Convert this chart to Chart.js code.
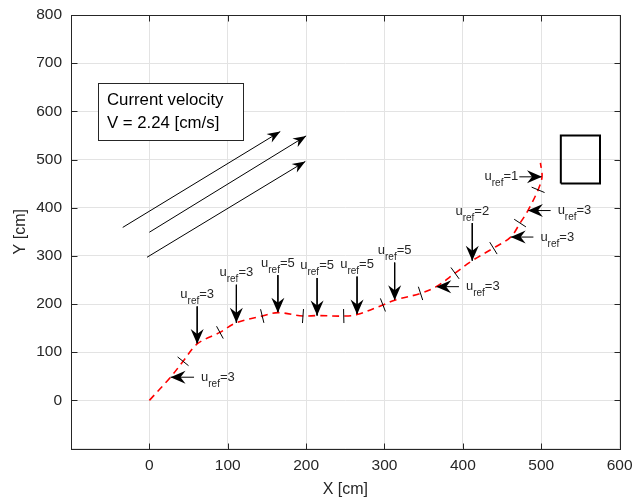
<!DOCTYPE html>
<html>
<head>
<meta charset="utf-8">
<script src="https://cdn.jsdelivr.net/npm/chart.js@4.4.1/dist/chart.umd.min.js"></script>
<style>
  html, body { margin: 0; background: #fff; }
  canvas { display: block; }
</style>
</head>
<body>
<canvas id="traj" width="635" height="503"></canvas>
<script>
// planned trajectory [cm]
const pathX = [0, 27, 43, 61, 90, 111, 144, 164, 196, 214, 248, 265, 298, 313, 346, 366, 390, 412, 439, 461, 473, 483, 496, 501, 499];
const pathY = [0, 48, 81, 117, 141, 161, 175, 182, 175, 176, 175, 178, 198, 208, 222, 236, 264, 290, 316, 339, 368, 394, 437, 464, 493];

// segment boundaries on the path
const segX = [43, 90, 144, 196, 248, 298, 346, 390, 439, 473, 496];
const segY = [81, 141, 175, 175, 175, 198, 222, 264, 316, 368, 437];

// reference speed markers (arrow tail -> tip) and their u_ref values
const refFromX = [57, 61, 111, 164, 214, 265, 313, 395, 412, 490, 512, 472];
const refFromY = [48, 195, 240, 260, 254, 257, 286, 236, 368, 339, 394, 464];
const refToX = [27, 61, 111, 164, 214, 265, 313, 366, 412, 461, 483, 501];
const refToY = [48, 117, 161, 182, 176, 178, 208, 236, 290, 339, 394, 464];
const uRef = [3, 3, 3, 5, 5, 5, 5, 3, 2, 3, 3, 1];

// current direction arrows
const curFromX = [-34, 0, -3];
const curFromY = [359, 349, 297];
const curToX = [167, 200, 199];
const curToY = [558, 549, 496];

// goal region
const goalX = [525, 575, 575, 525, 525];
const goalY = [450, 450, 550, 550, 450];

const noteLines = ["Current velocity", "V = 2.24 [cm/s]"];
const noteBoxX = [-65, 120];
const noteBoxY = [540, 658];

const FONT = '"Liberation Sans", Arial, Helvetica, sans-serif';
const INK = '#262626';

const pts = (xs, ys) => xs.map((x, i) => ({ x: x, y: ys[i] }));

const datasets = [];
datasets.push({
  data: pts(pathX, pathY),
  showLine: true,
  borderColor: '#ff0000',
  borderWidth: 1.6,
  borderDash: [7, 5],
  tension: 0.35,
  pointRadius: 0
});
datasets.push({
  data: pts(goalX, goalY),
  showLine: true,
  borderColor: '#000',
  borderWidth: 2,
  tension: 0,
  pointRadius: 0
});
refFromX.forEach((x, i) => {
  datasets.push({
    data: [{ x: x, y: refFromY[i] }, { x: refToX[i], y: refToY[i] }],
    showLine: true, borderColor: '#000', borderWidth: 1, pointRadius: 0
  });
});
curFromX.forEach((x, i) => {
  datasets.push({
    data: [{ x: x, y: curFromY[i] }, { x: curToX[i], y: curToY[i] }],
    showLine: true, borderColor: '#000', borderWidth: 1, pointRadius: 0
  });
});

function arrowHead(ctx, x1, y1, x2, y2, len, half, back) {
  const a = Math.atan2(y2 - y1, x2 - x1);
  const c = Math.cos(a), s = Math.sin(a);
  const P = (u, v) => [x2 + u * c - v * s, y2 + u * s + v * c];
  ctx.beginPath();
  ctx.moveTo(...P(0, 0));
  ctx.lineTo(...P(-len, half));
  ctx.lineTo(...P(-len + back, 0));
  ctx.lineTo(...P(-len, -half));
  ctx.closePath();
  ctx.fill();
}

// draws "u_ref=N" with a subscript
function refLabel(ctx, x, y, val, align) {
  const main = '13px ' + FONT, sub = '10px ' + FONT;
  ctx.font = main;
  const wu = ctx.measureText('u').width;
  const wv = ctx.measureText('=' + val).width;
  ctx.font = sub;
  const wr = ctx.measureText('ref').width;
  const w = wu + wr + wv;
  let x0 = x;
  if (align === 'center') x0 = x - w / 2;
  else if (align === 'right') x0 = x - w;
  ctx.textAlign = 'left';
  ctx.textBaseline = 'alphabetic';
  ctx.fillStyle = INK;
  ctx.font = main;
  ctx.fillText('u', x0, y);
  ctx.font = sub;
  ctx.fillText('ref', x0 + wu, y + 6);
  ctx.font = main;
  ctx.fillText('=' + val, x0 + wu + wr, y);
}

const overlay = {
  id: 'overlay',
  afterDatasetsDraw(chart) {
    const { ctx, scales: { x: sx, y: sy }, chartArea: a } = chart;
    const px = v => sx.getPixelForValue(v);
    const py = v => sy.getPixelForValue(v);
    ctx.save();

    // segment ticks across the path
    ctx.strokeStyle = '#000';
    ctx.lineWidth = 1;
    segX.forEach((sxv, i) => {
      let k = 0, best = Infinity;
      pathX.forEach((p, j) => {
        const d = Math.hypot(p - sxv, pathY[j] - segY[i]);
        if (d < best) { best = d; k = j; }
      });
      const p0 = Math.max(k - 1, 0), p1 = Math.min(k + 1, pathX.length - 1);
      const dx = px(pathX[p1]) - px(pathX[p0]);
      const dy = py(pathY[p1]) - py(pathY[p0]);
      const L = Math.hypot(dx, dy);
      const nx = -dy / L, ny = dx / L;
      const cx = px(sxv), cy = py(segY[i]);
      ctx.beginPath();
      ctx.moveTo(cx - nx * 7, cy - ny * 7);
      ctx.lineTo(cx + nx * 7, cy + ny * 7);
      ctx.stroke();
    });

    // reference speed arrowheads and labels
    refFromX.forEach((fx, i) => {
      const x1 = px(fx), y1 = py(refFromY[i]);
      const x2 = px(refToX[i]), y2 = py(refToY[i]);
      ctx.fillStyle = '#000';
      arrowHead(ctx, x1, y1, x2, y2, 15, 6.5, 5);
      if (refFromY[i] !== refToY[i]) {
        refLabel(ctx, x1, y1 - 8.5, uRef[i], 'center');
      } else if (fx > refToX[i]) {
        refLabel(ctx, x1 + 7, y1 + 3.5, uRef[i], 'left');
      } else {
        refLabel(ctx, x1 - 1, y1 + 3.5, uRef[i], 'right');
      }
    });

    // current arrowheads
    ctx.fillStyle = '#000';
    curFromX.forEach((fx, i) => {
      arrowHead(ctx, px(fx), py(curFromY[i]), px(curToX[i]), py(curToY[i]), 13, 5, 4);
    });

    // note box
    const bx0 = px(noteBoxX[0]), bx1 = px(noteBoxX[1]);
    const by0 = py(noteBoxY[1]), by1 = py(noteBoxY[0]);
    ctx.fillStyle = '#fff';
    ctx.fillRect(bx0, by0, bx1 - bx0, by1 - by0);
    ctx.strokeStyle = INK;
    ctx.lineWidth = 1;
    ctx.strokeRect(Math.round(bx0) + 0.5, Math.round(by0) + 0.5, Math.round(bx1 - bx0), Math.round(by1 - by0));
    ctx.fillStyle = '#000';
    ctx.font = '16.8px ' + FONT;
    ctx.textAlign = 'left';
    ctx.textBaseline = 'middle';
    noteLines.forEach((t, i) => ctx.fillText(t, bx0 + 8.5, by0 + 17 + i * 23.3));

    // axes box with inward ticks
    ctx.strokeStyle = INK;
    ctx.lineWidth = 1;
    const L = Math.round(a.left) + 0.5, R = Math.round(a.right) + 0.5;
    const T = Math.round(a.top) + 0.5, B = Math.round(a.bottom) + 0.5;
    ctx.strokeRect(L, T, R - L, B - T);
    ctx.beginPath();
    sx.ticks.forEach(t => {
      if (t.value <= sx.min || t.value >= sx.max) return;
      const x = Math.round(px(t.value)) + 0.5;
      ctx.moveTo(x, B); ctx.lineTo(x, B - 6);
      ctx.moveTo(x, T); ctx.lineTo(x, T + 6);
    });
    sy.ticks.forEach(t => {
      if (t.value <= sy.min || t.value >= sy.max) return;
      const y = Math.round(py(t.value)) + 0.5;
      ctx.moveTo(L, y); ctx.lineTo(L + 6, y);
      ctx.moveTo(R, y); ctx.lineTo(R - 6, y);
    });
    ctx.stroke();
    ctx.restore();
  }
};

new Chart(document.getElementById('traj'), {
  type: 'scatter',
  data: { datasets: datasets },
  options: {
    responsive: false,
    animation: false,
    layout: { padding: { top: 15, right: 15.4, left: 0, bottom: 0 } },
    plugins: { legend: { display: false }, tooltip: { enabled: false } },
    scales: {
      x: {
        type: 'linear', min: -100, max: 600,
        ticks: {
          stepSize: 100, autoSkip: false, maxRotation: 0, padding: 8,
          color: INK, font: { family: FONT, size: 15.5 },
          callback: v => (v < 0 ? '' : v)
        },
        grid: { color: '#e3e3e3', drawTicks: false },
        border: { display: false },
        title: { display: true, text: 'X [cm]', color: INK, font: { family: FONT, size: 16 }, padding: { top: 0, bottom: 4 } },
        afterFit: s => { s.height = 54.5; s.paddingLeft = 0; s.paddingRight = 0; }
      },
      y: {
        type: 'linear', min: -100, max: 800,
        ticks: {
          stepSize: 100, autoSkip: false, padding: 9,
          color: INK, font: { family: FONT, size: 15.5 },
          callback: v => (v < 0 ? '' : v)
        },
        grid: { color: '#e3e3e3', drawTicks: false },
        border: { display: false },
        title: { display: true, text: 'Y [cm]', color: INK, font: { family: FONT, size: 16 }, padding: { top: 10.5, bottom: 0 } },
        afterFit: s => { s.width = 71; s.paddingTop = 0; s.paddingBottom = 0; }
      }
    }
  },
  plugins: [overlay]
});
</script>
</body>
</html>
